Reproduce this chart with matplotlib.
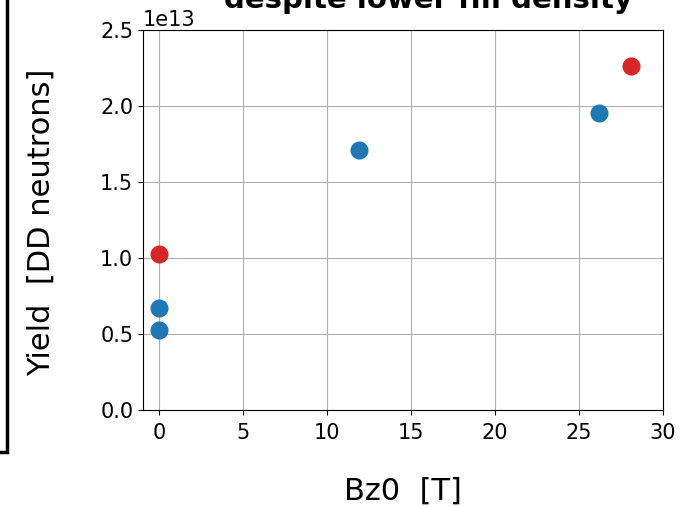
import matplotlib
matplotlib.use("Agg")
import matplotlib.pyplot as plt
from matplotlib.patches import Rectangle

# Data
bz_blue = [0.0, 0.0, 11.9, 26.2]
yield_blue = [0.671e13, 0.526e13, 1.71e13, 1.954e13]
bz_red = [0.0, 28.1]
yield_red = [1.026e13, 2.263e13]

xticks = [0, 5, 10, 15, 20, 25, 30]
yticks = [0.0, 0.5e13, 1.0e13, 1.5e13, 2.0e13, 2.5e13]

fig = plt.figure(figsize=(7.0, 5.07), dpi=100)
ax = fig.add_axes([143/700, 1 - 410/507, (663-143)/700, (410-30)/507])

ax.plot(bz_blue, yield_blue, 'o', color='#1f77b4', markersize=12, zorder=3)
ax.plot(bz_red, yield_red, 'o', color='#d62728', markersize=12, zorder=3)

ax.set_xlim(-0.95, 30)
ax.set_ylim(0, 2.5e13)
ax.set_xticks(xticks)
ax.set_yticks(yticks)
ax.grid(True, color='#b0b0b0', linewidth=0.8)
ax.set_axisbelow(True)
ax.tick_params(labelsize=15)
ax.tick_params(axis='x', pad=6)
ax.yaxis.get_offset_text().set_fontsize(15)
ax.set_xlabel('Bz0  [T]', fontsize=22)
ax.set_ylabel('Yield  [DD neutrons]', fontsize=22)
ax.xaxis.set_label_coords(0.5, -0.176)
ax.yaxis.set_label_coords(-0.167, 0.493)

# cut-off title from the larger figure
fig.text(428/700, 1 - 8/507, 'despite lower fill density', fontsize=21,
         fontweight='bold', ha='center', va='baseline')

# partial box of neighbouring element on the left
rect = Rectangle((-0.5, 1 - 452/507), 7/700 + 0.5, 2.0, transform=fig.transFigure,
                 fill=False, edgecolor='black', linewidth=2.5, clip_on=False)
fig.patches.append(rect)

fig.savefig('out.png', dpi=100)
